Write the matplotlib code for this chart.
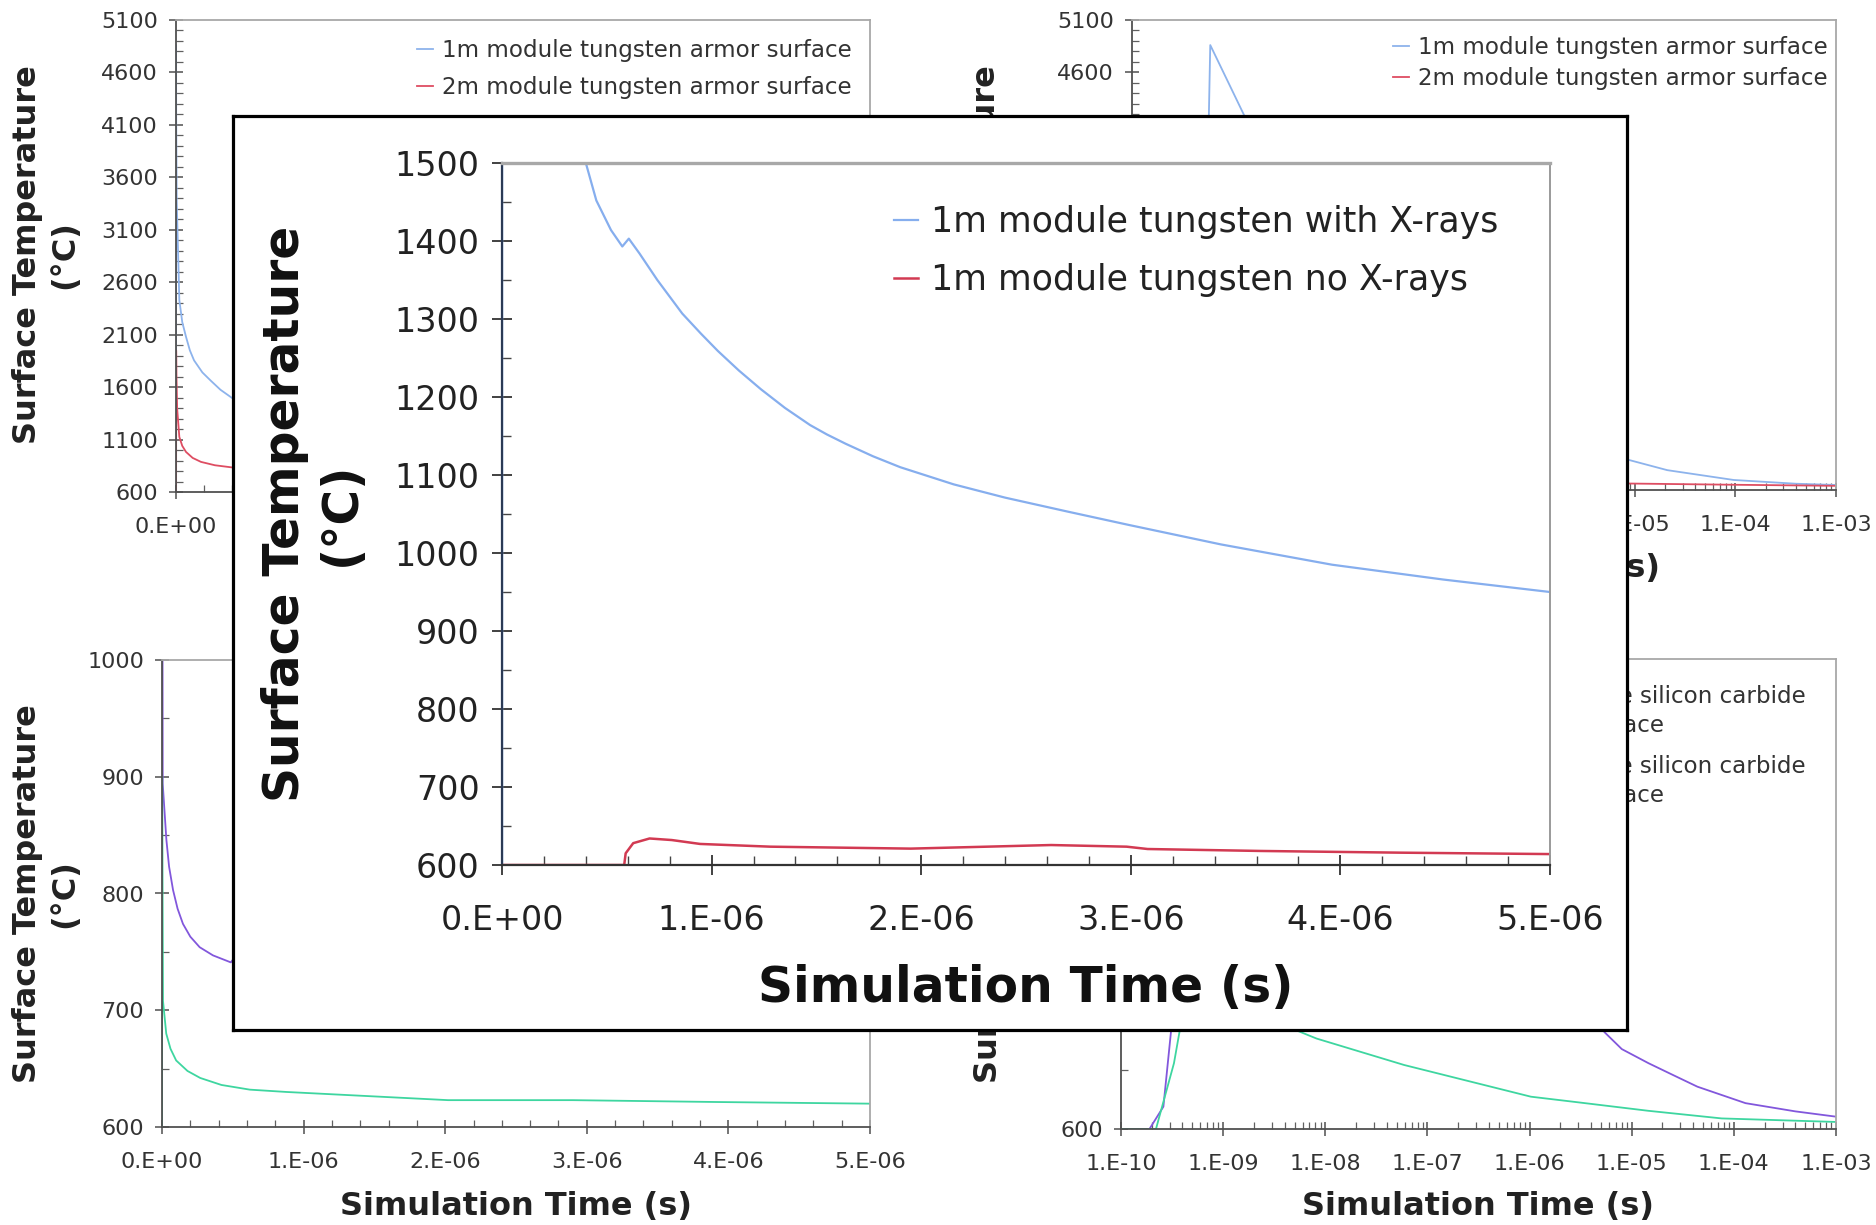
import numpy as np
import matplotlib
matplotlib.use("Agg")
import matplotlib.pyplot as plt
from matplotlib.ticker import FixedLocator, MultipleLocator, LogLocator, NullFormatter
from matplotlib.lines import Line2D

plt.rcParams['font.family'] = ['DejaVu Sans']

# ---------------- data (time in s, temperature in deg C) ----------------
# 1m module tungsten armor surface (with X-rays)
w1m_time = [0, 1e-10, 4.9e-10, 6.0e-10, 1.3e-9, 5e-9, 2.4e-8, 4.5e-8, 7.2e-8, 1.0e-7,
            1.3e-7, 1.9e-7, 2.5e-7, 3.2e-7, 4.0e-7, 4.5e-7, 5.2e-7, 5.74e-7, 6.05e-7,
            6.56e-7, 7.41e-7, 8.6e-7, 9.5e-7, 1.03e-6, 1.13e-6, 1.235e-6, 1.35e-6,
            1.47e-6, 1.55e-6, 1.64e-6, 1.77e-6, 1.9e-6, 2.155e-6, 2.4e-6, 2.7e-6,
            2.99e-6, 3.43e-6, 3.96e-6, 4.49e-6, 5.0e-6, 8.7e-6, 2.1e-5, 9.6e-5, 4e-4, 1e-3]
w1m_temp = [600, 600, 600, 4860, 4190, 3380, 2430, 2220, 2080, 1950,
            1855, 1740, 1662, 1575, 1500, 1452, 1414, 1393, 1403,
            1384, 1350, 1307, 1281, 1259, 1234, 1210, 1186,
            1164, 1152, 1140, 1124, 1110, 1088, 1071, 1053,
            1036, 1011, 985, 966, 950, 888, 790, 696, 660, 648]
# 2m module tungsten armor surface
w2m_time = [0, 1e-10, 8e-10, 1.2e-9, 3e-9, 8e-9, 2.4e-8, 4.5e-8, 7.2e-8, 1.2e-7,
            1.8e-7, 2.8e-7, 4.0e-7, 1e-6, 3e-6, 8.7e-6, 1e-4, 1e-3]
w2m_temp = [600, 600, 600, 1950, 1700, 1400, 1125, 1040, 982, 925,
            887, 855, 835, 780, 700, 662, 650, 640]
# 1m module tungsten without X-rays (inset)
nox_time = [0, 5.83e-7, 5.9e-7, 6.26e-7, 7.04e-7, 8.1e-7, 9.45e-7, 1.28e-6, 1.95e-6,
            2.62e-6, 2.98e-6, 3.08e-6, 3.62e-6, 4.29e-6, 5.0e-6]
nox_temp = [600, 600, 615, 628, 634, 632, 627, 623.5, 621,
            625.6, 623.5, 620.5, 618, 615.8, 614]
# silicon carbide, linear-time panel
sic1_lin_time = [0, 2e-10, 5e-10, 5e-9, 3.1e-8, 5e-8, 7.8e-8, 1.1e-7, 1.48e-7, 2.0e-7,
                 2.66e-7, 3.6e-7, 4.86e-7, 8e-7, 1.5e-6, 3e-6, 5e-6]
sic1_lin_temp = [600, 600, 1300, 894, 846, 823, 803, 787, 774, 763,
                 754, 747, 741, 790, 800, 785, 770]
sic2_lin_time = [0, 2e-10, 1e-9, 7e-9, 3e-8, 6e-8, 1e-7, 1.8e-7, 2.7e-7, 4.2e-7,
                 6.2e-7, 8.8e-7, 2.02e-6, 2.9e-6, 3.92e-6, 5e-6]
sic2_lin_temp = [600, 600, 900, 708, 680, 667, 657, 648, 642, 636,
                 632, 630, 623, 623, 621.4, 620]
# silicon carbide, log-time panel
sic1_log_time = [1e-10, 1.9e-10, 2.6e-10, 3.1e-10, 3.3e-10, 5e-10, 1e-8, 1e-6, 2e-6,
                 4e-6, 5.4e-6, 8e-6, 1.46e-5, 2.6e-5, 4.4e-5, 1.3e-4, 4e-4, 1e-3]
sic1_log_temp = [600, 600, 638, 769, 854, 1300, 1000, 900, 880,
                 810, 765, 736, 712, 691, 672, 644, 630, 621]
sic2_log_time = [1e-10, 2.2e-10, 3.3e-10, 4.6e-10, 1e-9, 5.2e-9, 8.2e-9, 5.9e-8,
                 1.03e-6, 2.8e-6, 1.45e-5, 7.6e-5, 1e-3]
sic2_log_temp = [600, 600, 712, 854, 900, 768, 754, 709,
                 655, 646, 631, 618, 612]

# ticks / labels
lin_xticks = [0, 1e-6, 2e-6, 3e-6, 4e-6, 5e-6]
lin_xlabels = ["0.E+00", "1.E-06", "2.E-06", "3.E-06", "4.E-06", "5.E-06"]
log_xticks = [1e-10, 1e-9, 1e-8, 1e-7, 1e-6, 1e-5, 1e-4, 1e-3]
log_xlabels = ["1.E-10", "1.E-09", "1.E-08", "1.E-07", "1.E-06", "1.E-05", "1.E-04", "1.E-03"]
w_yticks = [600, 1100, 1600, 2100, 2600, 3100, 3600, 4100, 4600, 5100]
sicl_yticks = [600, 700, 800, 900, 1000]
sicg_yticks = [600, 800, 1000, 1200, 1400]
inset_yticks = [600, 700, 800, 900, 1000, 1100, 1200, 1300, 1400, 1500]

lab_w1 = "1m module tungsten armor surface"
lab_w2 = "2m module tungsten armor surface"
lab_s1 = "1m module silicon carbide\narmor surface"
lab_s2 = "2m module silicon carbide\narmor surface"
lab_in1 = "1m module tungsten with X-rays"
lab_in2 = "1m module tungsten no X-rays"
xlab = "Simulation Time (s)"
ylab = "Surface Temperature\n(°C)"

BLUE = '#8db3ec'
RED = '#de4d62'
PURPLE = '#8257dc'
GREEN = '#3ed6a0'
IN_BLUE = '#86aeee'
IN_RED = '#d23a52'

W, H = 1876, 1225
fig = plt.figure(figsize=(W / 100, H / 100), dpi=100)


def rect(x0, y0, x1, y1):
    return [x0 / W, 1 - y1 / H, (x1 - x0) / W, (y1 - y0) / H]


def style_bg(ax):
    for s in ['top', 'right']:
        ax.spines[s].set_color('#a8a8a8')
        ax.spines[s].set_linewidth(1.3)
    for s in ['left', 'bottom']:
        ax.spines[s].set_color('#505050')
        ax.spines[s].set_linewidth(1.3)
    ax.tick_params(which='major', direction='inout', length=10, width=1.1,
                   color='#505050', labelsize=16, labelcolor='#333333', pad=8)
    ax.tick_params(axis='x', which='major', pad=13)
    ax.tick_params(which='minor', direction='in', length=5, width=0.9, color='#606060')
    ax.tick_params(which='both', top=False, right=False)


def pos_only(t, v):
    t = np.asarray(t, float)
    v = np.asarray(v, float)
    m = t > 0
    return t[m], v[m]


def legend(ax, handles, labels, xr, ytop, fs, lsp, hl=0.7, htp=0.4, tls=None):
    leg = ax.legend(handles, labels, loc='upper right',
                    bbox_to_anchor=(xr / W, 1 - ytop / H), bbox_transform=fig.transFigure,
                    frameon=False, fontsize=fs, handlelength=hl, handletextpad=htp,
                    labelspacing=lsp, borderpad=0, borderaxespad=0)
    for t in leg.get_texts():
        t.set_color('#333333')
        if tls is not None:
            t.set_linespacing(tls)
    return leg


# ---------------- top-left: tungsten, linear ----------------
ax_tl = fig.add_axes(rect(176, 20, 870, 492))
ax_tl.plot(w1m_time, w1m_temp, color=BLUE, lw=1.3)
ax_tl.plot(w2m_time, w2m_temp, color=RED, lw=1.3)
ax_tl.set_xlim(0, 5e-6)
ax_tl.set_ylim(600, 5100)
ax_tl.xaxis.set_major_locator(FixedLocator(lin_xticks))
ax_tl.set_xticklabels(lin_xlabels)
ax_tl.xaxis.set_minor_locator(MultipleLocator(2e-7))
ax_tl.yaxis.set_major_locator(FixedLocator(w_yticks))
ax_tl.set_yticklabels([str(v) for v in w_yticks])
ax_tl.yaxis.set_minor_locator(MultipleLocator(100))
style_bg(ax_tl)
legend(ax_tl, [Line2D([], [], color=BLUE, lw=1.3), Line2D([], [], color=RED, lw=1.3)],
       [lab_w1, lab_w2], 852, 39, 16.6, 0.6)

# ---------------- top-right: tungsten, log ----------------
ax_tr = fig.add_axes(rect(1132, 20, 1836, 490))
ax_tr.plot(*pos_only(w1m_time, w1m_temp), color=BLUE, lw=1.3)
ax_tr.plot(*pos_only(w2m_time, w2m_temp), color=RED, lw=1.3)
ax_tr.set_xscale('log')
ax_tr.set_xlim(1e-10, 1e-3)
ax_tr.set_ylim(600, 5100)
ax_tr.xaxis.set_major_locator(FixedLocator(log_xticks))
ax_tr.set_xticklabels(log_xlabels)
ax_tr.xaxis.set_minor_locator(LogLocator(base=10, subs=np.arange(2, 10), numticks=50))
ax_tr.xaxis.set_minor_formatter(NullFormatter())
ax_tr.yaxis.set_major_locator(FixedLocator(w_yticks))
ax_tr.set_yticklabels([str(v) for v in w_yticks])
ax_tr.yaxis.set_minor_locator(MultipleLocator(100))
style_bg(ax_tr)
legend(ax_tr, [Line2D([], [], color=BLUE, lw=1.3), Line2D([], [], color=RED, lw=1.3)],
       [lab_w1, lab_w2], 1828, 36, 16.6, 0.35)

# ---------------- bottom-left: SiC, linear ----------------
ax_bl = fig.add_axes(rect(162, 660, 870, 1127))
ax_bl.plot(sic1_lin_time, sic1_lin_temp, color=PURPLE, lw=1.3)
ax_bl.plot(sic2_lin_time, sic2_lin_temp, color=GREEN, lw=1.3)
ax_bl.set_xlim(0, 5e-6)
ax_bl.set_ylim(600, 1000)
ax_bl.xaxis.set_major_locator(FixedLocator(lin_xticks))
ax_bl.set_xticklabels(lin_xlabels)
ax_bl.xaxis.set_minor_locator(MultipleLocator(2e-7))
ax_bl.yaxis.set_major_locator(FixedLocator(sicl_yticks))
ax_bl.set_yticklabels([str(v) for v in sicl_yticks])
ax_bl.yaxis.set_minor_locator(MultipleLocator(50))
style_bg(ax_bl)
legend(ax_bl, [Line2D([], [], color=PURPLE, lw=1.3), Line2D([], [], color=GREEN, lw=1.3)],
       [lab_s1, lab_s2], 806, 685, 16.6, 0.75, tls=1.35)

# ---------------- bottom-right: SiC, log ----------------
ax_br = fig.add_axes(rect(1121, 659, 1836, 1129))
ax_br.plot(sic1_log_time, sic1_log_temp, color=PURPLE, lw=1.3)
ax_br.plot(sic2_log_time, sic2_log_temp, color=GREEN, lw=1.3)
ax_br.set_xscale('log')
ax_br.set_xlim(1e-10, 1e-3)
ax_br.set_ylim(600, 1400)
ax_br.xaxis.set_major_locator(FixedLocator(log_xticks))
ax_br.set_xticklabels(log_xlabels)
ax_br.xaxis.set_minor_locator(LogLocator(base=10, subs=np.arange(2, 10), numticks=50))
ax_br.xaxis.set_minor_formatter(NullFormatter())
ax_br.yaxis.set_major_locator(FixedLocator(sicg_yticks))
ax_br.set_yticklabels([str(v) for v in sicg_yticks])
ax_br.yaxis.set_minor_locator(MultipleLocator(100))
style_bg(ax_br)
legend(ax_br, [Line2D([], [], color=PURPLE, lw=1.3), Line2D([], [], color=GREEN, lw=1.3)],
       [lab_s1, lab_s2], 1806, 685, 16.6, 0.75, tls=1.35)

# background axis titles
lab_kw = dict(fontsize=23, fontweight='bold', color='#222222', ha='center', va='center',
              multialignment='center', linespacing=1.25)
fig.text(46 / W, 1 - 255 / H, ylab, rotation=90, **lab_kw)
fig.text(523 / W, 1 - 568 / H, xlab, **lab_kw)
fig.text(1005 / W, 1 - 255 / H, ylab, rotation=90, **lab_kw)
fig.text(1484 / W, 1 - 568 / H, xlab, **lab_kw)
fig.text(46 / W, 1 - 894 / H, ylab, rotation=90, **lab_kw)
fig.text(516 / W, 1 - 1207 / H, xlab, **lab_kw)
fig.text(1007 / W, 1 - 894 / H, ylab, rotation=90, **lab_kw)
fig.text(1478 / W, 1 - 1207 / H, xlab, **lab_kw)

# ---------------- inset (zoom of 1m tungsten) ----------------
frame = fig.add_axes(rect(233, 116, 1627, 1030))
frame.set_zorder(20)
frame.set_facecolor('white')
frame.set_xticks([])
frame.set_yticks([])
for s in frame.spines.values():
    s.set_color('black')
    s.set_linewidth(2.3)

ax_in = fig.add_axes(rect(502, 163, 1550, 865))
ax_in.set_zorder(21)
ax_in.set_facecolor('white')
ax_in.plot(w1m_time, w1m_temp, color=IN_BLUE, lw=1.6)
ax_in.plot(nox_time, nox_temp, color=IN_RED, lw=1.8)
ax_in.set_xlim(0, 5e-6)
ax_in.set_ylim(600, 1500)
ax_in.xaxis.set_major_locator(FixedLocator(lin_xticks))
ax_in.set_xticklabels(lin_xlabels)
ax_in.xaxis.set_minor_locator(MultipleLocator(2e-7))
ax_in.yaxis.set_major_locator(FixedLocator(inset_yticks))
ax_in.set_yticklabels([str(v) for v in inset_yticks])
ax_in.yaxis.set_minor_locator(MultipleLocator(50))
ax_in.spines['top'].set_color('#a8a8a8')
ax_in.spines['top'].set_linewidth(2.4)
ax_in.spines['right'].set_color('#9a9a9a')
ax_in.spines['right'].set_linewidth(1.4)
ax_in.spines['left'].set_color('#2b3a55')
ax_in.spines['left'].set_linewidth(1.6)
ax_in.spines['bottom'].set_color('#333333')
ax_in.spines['bottom'].set_linewidth(1.6)
ax_in.tick_params(which='major', direction='inout', length=14, width=1.3,
                  color='#333333', labelsize=24, labelcolor='#222222')
ax_in.tick_params(axis='y', which='major', pad=9)
ax_in.tick_params(axis='x', which='major', pad=21)
ax_in.tick_params(which='minor', direction='in', length=6.5, width=1.0, color='#444444')
ax_in.tick_params(which='both', top=False, right=False)
leg = legend(ax_in, [Line2D([], [], color=IN_BLUE, lw=1.6), Line2D([], [], color=IN_RED, lw=1.8)],
             [lab_in1, lab_in2], 1498, 205, 25, 0.7, hl=0.7, htp=0.35)
for t in leg.get_texts():
    t.set_color('#222222')

in_kw = dict(fontsize=35, fontweight='bold', color='#111111', ha='center', va='center',
             multialignment='center', linespacing=1.2, zorder=30)
fig.text(1026 / W, 1 - 988 / H, xlab, **in_kw)
fig.text(313 / W, 1 - 514 / H, ylab, rotation=90, **in_kw)

fig.savefig('out.png', dpi=100)
